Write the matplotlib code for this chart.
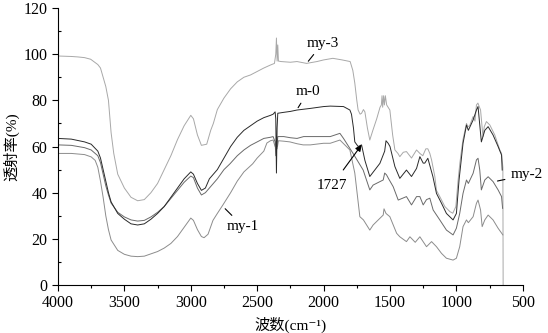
import matplotlib
matplotlib.use("Agg")
import matplotlib.pyplot as plt
from matplotlib.ticker import MultipleLocator

plt.rcParams['font.family'] = ['Liberation Serif', 'Noto Sans CJK SC', 'DejaVu Sans']
plt.rcParams['font.size'] = 10

# 数据：波数 (cm-1) 与透射率 (%)
my3_wn = [4000, 3900, 3850, 3800, 3754, 3700, 3680, 3660, 3640, 3620, 3600, 3580, 3550, 3500,
          3450, 3400, 3350, 3300, 3250, 3200, 3150, 3100, 3050, 3000, 2980, 2950, 2920, 2880,
          2850, 2830, 2800, 2750, 2700, 2650, 2600, 2550, 2500, 2450, 2400, 2370, 2360, 2355,
          2350, 2345, 2340, 2320, 2250, 2200, 2128, 2050, 2000, 1930, 1860, 1800, 1780, 1765,
          1750, 1740, 1725, 1714, 1700, 1689, 1670, 1652, 1640, 1629, 1600, 1575, 1565, 1560,
          1555, 1548, 1542, 1535, 1525, 1501, 1480, 1463, 1440, 1426, 1400, 1376, 1338, 1300,
          1275, 1253, 1230, 1215, 1200, 1187, 1162, 1150, 1125, 1087, 1049, 1027, 1004, 987,
          974, 951, 924, 914, 900, 874, 860, 849, 838, 818, 800, 790, 774, 748, 711, 673, 660,
          650, 648]
my3_t = [99.2, 99.0, 98.8, 98.5, 97.8, 95.5, 94.0, 90.0, 86.0, 80.0, 66.0, 57.0, 48.0, 42.0,
         38.0, 36.5, 37.0, 40.0, 44.0, 50.0, 56.0, 63.0, 69.0, 73.5, 72.0, 65.0, 60.5, 61.0,
         67.0, 70.0, 76.0, 81.0, 85.0, 88.0, 90.0, 91.0, 92.5, 94.0, 95.3, 96.0, 100.0, 107.0,
         97.0, 104.0, 97.0, 96.8, 96.5, 96.8, 96.0, 96.8, 97.5, 98.2, 97.5, 96.8, 93.0, 87.5,
         80.0, 75.8, 74.0, 74.4, 76.0, 75.0, 68.0, 62.8, 65.0, 67.0, 72.0, 77.0, 78.0, 82.0,
         77.0, 82.0, 78.0, 82.0, 78.0, 75.8, 65.0, 58.5, 57.0, 55.6, 57.5, 57.8, 55.0, 58.5,
         57.0, 56.0, 59.0, 59.0, 57.0, 54.2, 46.9, 41.0, 38.3, 34.0, 31.8, 31.1, 34.0, 45.5,
         52.8, 62.8, 70.0, 68.6, 69.0, 73.0, 71.0, 78.0, 78.8, 75.8, 64.3, 68.6, 70.8, 69.3,
         65.0, 58.5, 57.0, 51.0, 0.0]

m0_wn = [4000, 3900, 3800, 3750, 3700, 3680, 3660, 3640, 3620, 3600, 3550, 3500, 3450, 3400,
         3350, 3300, 3250, 3200, 3150, 3100, 3050, 3000, 2980, 2950, 2920, 2890, 2860, 2800,
         2750, 2700, 2650, 2600, 2550, 2500, 2450, 2400, 2380, 2365, 2360, 2355, 2350, 2345,
         2300, 2250, 2200, 2100, 2000, 1950, 1850, 1802, 1790, 1775, 1765, 1740, 1714, 1689,
         1652, 1576, 1540, 1530, 1514, 1500, 1463, 1426, 1376, 1338, 1300, 1275, 1250, 1238,
         1215, 1177, 1150, 1112, 1075, 1025, 1000, 980, 950, 924, 910, 874, 849, 837, 812, 786,
         761, 724, 686, 660, 655]
m0_t = [63.5, 63.2, 62.0, 61.0, 58.0, 55.0, 50.0, 45.0, 40.0, 36.0, 31.0, 28.5, 26.5, 26.0,
        26.5, 28.5, 31.0, 34.0, 38.0, 42.0, 46.0, 49.0, 48.0, 44.0, 41.0, 42.0, 46.0, 50.0,
        55.0, 60.0, 64.0, 67.0, 69.0, 71.0, 72.5, 73.5, 74.0, 75.0, 72.0, 48.5, 68.0, 74.4,
        74.8, 75.2, 75.8, 76.5, 77.3, 77.5, 77.3, 75.8, 74.0, 68.0, 62.0, 60.0, 60.7, 54.0,
        47.0, 52.7, 58.0, 62.5, 61.4, 60.0, 51.3, 46.2, 49.8, 47.0, 50.5, 55.6, 52.8, 52.8,
        54.9, 47.0, 39.7, 35.4, 31.0, 28.2, 31.0, 45.5, 61.4, 69.3, 67.0, 71.5, 75.8, 77.3,
        62.0, 67.0, 68.6, 65.0, 60.0, 56.3, 49.8]

my2_wn = [4000, 3900, 3800, 3750, 3700, 3680, 3660, 3640, 3620, 3600, 3550, 3500, 3450, 3400,
          3350, 3300, 3250, 3200, 3150, 3100, 3050, 3000, 2980, 2950, 2920, 2890, 2860, 2800,
          2750, 2705, 2650, 2600, 2550, 2500, 2450, 2400, 2380, 2365, 2360, 2355, 2350, 2345,
          2300, 2250, 2200, 2150, 2100, 2000, 1950, 1877, 1850, 1778, 1740, 1702, 1677, 1652,
          1627, 1551, 1540, 1526, 1510, 1476, 1438, 1376, 1338, 1300, 1275, 1250, 1225, 1200,
          1175, 1125, 1075, 1025, 1000, 975, 950, 924, 910, 874, 849, 837, 824, 812, 786, 761,
          724, 686, 660, 652]
my2_t = [60.7, 60.5, 59.5, 58.5, 56.0, 53.0, 48.0, 43.0, 39.0, 35.5, 31.5, 29.5, 28.2, 27.7,
         28.0, 29.5, 31.5, 34.0, 37.5, 41.0, 44.5, 47.2, 46.5, 42.0, 39.0, 40.0, 42.0, 46.0,
         50.0, 52.5, 56.0, 58.5, 60.5, 62.0, 63.5, 64.0, 64.3, 62.0, 56.0, 64.0, 60.0, 64.3,
         64.3, 63.8, 63.5, 64.3, 64.3, 64.3, 64.3, 65.7, 63.5, 57.0, 53.4, 49.8, 45.5, 41.2,
         43.3, 45.5, 48.5, 47.7, 46.0, 42.6, 36.8, 38.3, 34.7, 38.3, 38.3, 34.7, 37.0, 37.6,
         32.5, 28.2, 23.8, 21.7, 24.6, 31.0, 39.7, 45.5, 44.0, 48.4, 54.2, 54.9, 49.8, 41.2,
         45.5, 46.9, 44.8, 41.2, 38.3, 33.2]

my1_wn = [4000, 3900, 3800, 3750, 3720, 3700, 3680, 3660, 3640, 3620, 3600, 3550, 3500, 3450,
          3400, 3350, 3300, 3250, 3200, 3150, 3100, 3050, 3000, 2980, 2950, 2920, 2900, 2870,
          2833, 2800, 2758, 2700, 2650, 2600, 2534, 2500, 2450, 2427, 2400, 2380, 2365, 2355,
          2350, 2340, 2300, 2254, 2200, 2154, 2100, 2000, 1950, 1877, 1802, 1765, 1727, 1700,
          1652, 1627, 1576, 1551, 1545, 1530, 1501, 1450, 1426, 1376, 1350, 1310, 1275, 1225,
          1187, 1150, 1112, 1075, 1025, 1000, 975, 950, 924, 910, 874, 849, 837, 818, 806, 786,
          761, 724, 686, 650]
my1_t = [57.0, 57.0, 56.5, 55.5, 54.0, 51.0, 45.0, 38.0, 30.0, 24.0, 19.5, 15.0, 13.3, 12.5,
         12.3, 12.5, 13.5, 14.5, 16.0, 18.0, 21.0, 25.0, 29.0, 28.0, 24.0, 21.0, 20.5, 22.0,
         28.0, 31.0, 34.7, 40.0, 45.0, 49.0, 52.5, 55.0, 58.0, 61.5, 62.5, 62.8, 60.0, 62.0,
         59.0, 62.5, 62.3, 62.0, 61.2, 60.7, 60.7, 61.4, 61.4, 62.8, 58.5, 48.5, 29.6, 28.2,
         23.8, 26.0, 28.9, 30.3, 33.0, 31.0, 29.6, 22.4, 20.9, 18.8, 20.9, 18.5, 20.9, 16.6,
         18.8, 16.6, 13.7, 11.6, 10.8, 11.6, 16.6, 25.3, 28.2, 27.0, 29.6, 35.4, 36.8, 32.5,
         25.3, 28.2, 30.3, 28.2, 24.6, 21.7]

fig = plt.figure(figsize=(5.48, 3.33), dpi=100)
ax = fig.add_axes([0.1058, 0.1441, 0.8482, 0.8319])

ax.plot(my3_wn, my3_t, color='#a8a8a8', lw=0.7)
ax.plot(my1_wn, my1_t, color='#8c8c8c', lw=0.7)
ax.plot(my2_wn, my2_t, color='#6a6a6a', lw=0.7)
ax.plot(m0_wn, m0_t, color='#2a2a2a', lw=0.7)

ax.set_xlim(4000, 500)
ax.set_ylim(0, 120)
ax.xaxis.set_major_locator(MultipleLocator(500))
ax.xaxis.set_minor_locator(MultipleLocator(250))
ax.yaxis.set_major_locator(MultipleLocator(20))
ax.yaxis.set_minor_locator(MultipleLocator(10))
ax.spines['top'].set_visible(False)
ax.spines['right'].set_visible(False)
ax.tick_params(which='major', direction='out', length=4, width=0.8, labelsize=11.5)
ax.tick_params(axis='x', which='minor', direction='out', length=2.5, width=0.8)
ax.tick_params(axis='y', which='minor', direction='in', length=2.5, width=0.8)

ax.set_xlabel('波数(cm⁻¹)', fontsize=11, labelpad=4)
ax.set_ylabel('透射率(%)', fontsize=11, labelpad=3)

# 标注
line_kw = dict(arrowprops=dict(arrowstyle='-', color='black', lw=0.8), ha='center', va='center',
               fontsize=11)
ax.annotate('my-3', xy=(2128, 96), xytext=(2006, 104.8), **line_kw)
ax.annotate('m-0', xy=(2203, 75.8), xytext=(2116, 83.8), **line_kw)
ax.annotate('my-1', xy=(2756, 33.9), xytext=(2606, 25.3), **line_kw)
ax.annotate('my-2', xy=(711, 44.8), xytext=(472, 47.7), annotation_clip=False, **line_kw)
ax.annotate('1727', xy=(1714, 60.7), xytext=(1940, 42.9), ha='center', va='center', fontsize=11,
            arrowprops=dict(arrowstyle='-|>', color='black', lw=0.8, mutation_scale=9,
                            shrinkA=6, shrinkB=0))

fig.savefig('out.png', dpi=100)
